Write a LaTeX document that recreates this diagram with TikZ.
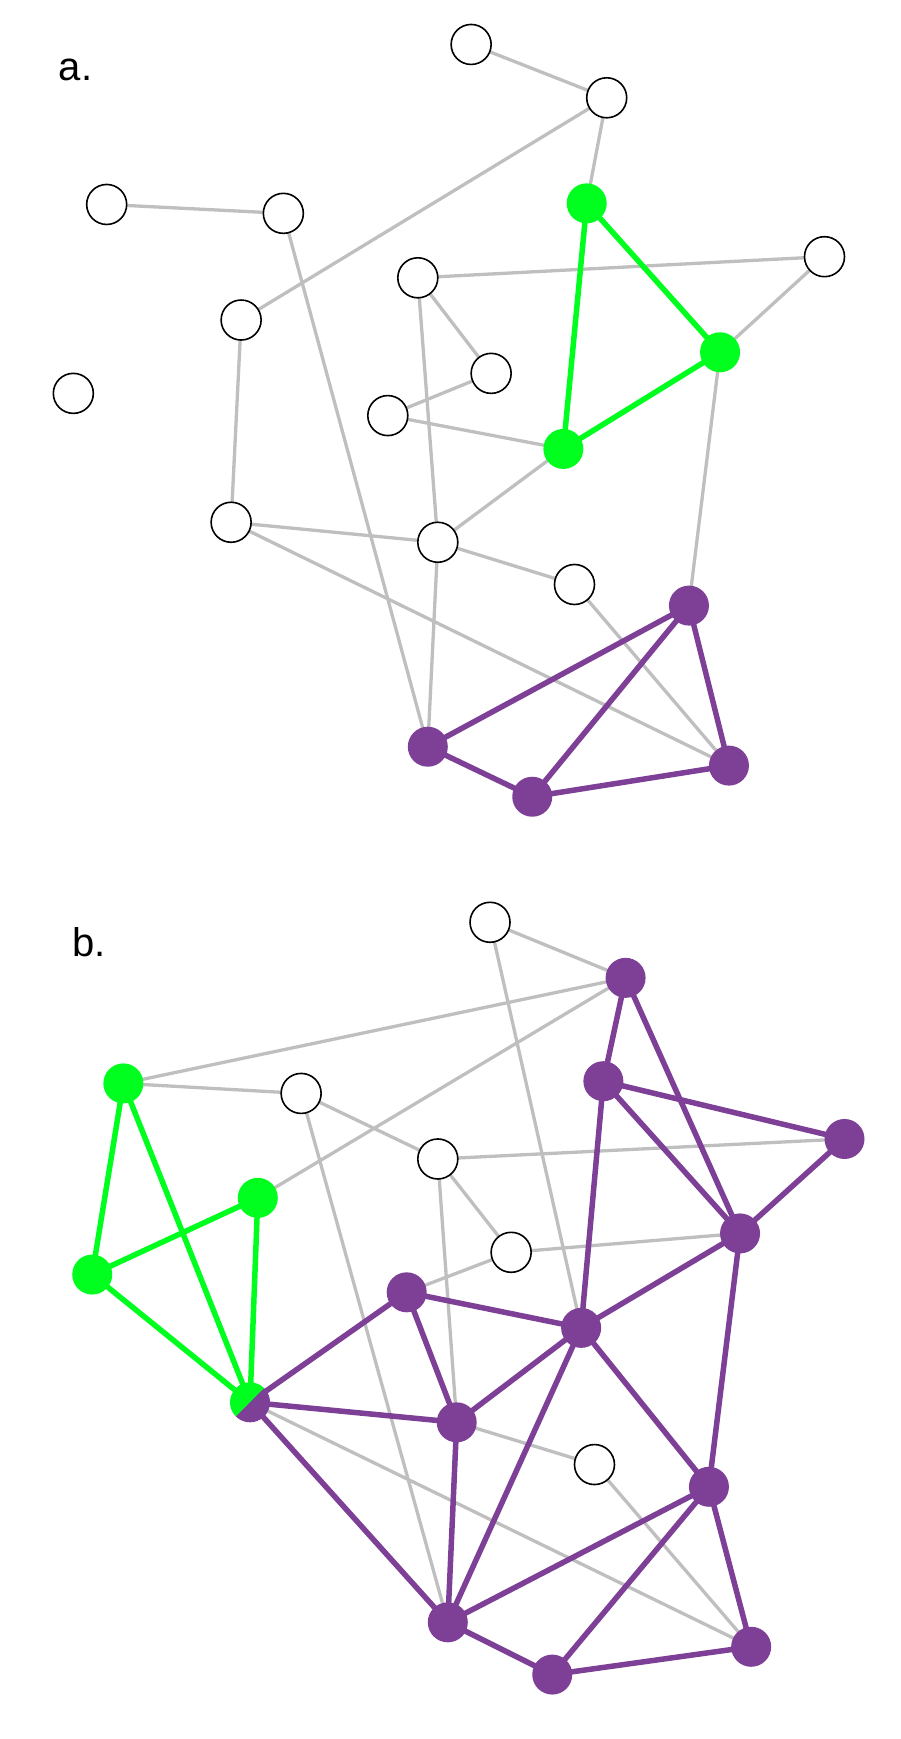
\documentclass[tikz,border=0pt]{standalone}
\usepackage{fontspec}
\setmainfont{Liberation Sans}
\begin{document}
\begin{tikzpicture}[x=1.111pt,y=-1.111pt,
  nd/.style={circle,minimum size=40pt,inner sep=0pt},
  wn/.style={nd,draw=black,line width=1.6pt,fill=white},
  gn/.style={nd,fill=gcol},
  pn/.style={nd,fill=pcol},
  ge/.style={draw=gray!50,line width=3.3pt},
  pe/.style={draw=pcol,line width=5.5pt},
  gre/.style={draw=gcol,line width=5.5pt},
  lab/.style={font=\fontsize{40}{46}\selectfont}]
\definecolor{gcol}{RGB}{0,255,30}
\definecolor{pcol}{RGB}{125,64,150}
\useasboundingbox (0,0) rectangle (810,1565);
\node[lab] (la) at (68,63) {a.};
\node[lab] (lb) at (80,848) {b.};
% panel a coordinates
\coordinate (A1) at (424,40); \coordinate (A2) at (546,88); \coordinate (A3) at (528,183);
\coordinate (A4) at (96,184); \coordinate (A5) at (255,192); \coordinate (A6) at (742,231);
\coordinate (A7) at (376,250); \coordinate (A8) at (217,288); \coordinate (A9) at (648,317);
\coordinate (A10) at (442,336); \coordinate (A11) at (66,354); \coordinate (A12) at (349,374);
\coordinate (A13) at (507,404); \coordinate (A14) at (208,470); \coordinate (A15) at (394,488);
\coordinate (A16) at (517,526); \coordinate (A17) at (620,545); \coordinate (A18) at (385,672);
\coordinate (A19) at (656,689); \coordinate (A20) at (479,717);
\foreach \a/\b in {A1/A2,A2/A3,A2/A8,A4/A5,A5/A18,A7/A6,A6/A9,A7/A10,A7/A15,A12/A10,A12/A13,A13/A15,A8/A14,A14/A15,A14/A19,A15/A18,A15/A16,A16/A19,A9/A17}
  \draw[ge] (\a) -- (\b);
\foreach \a/\b in {A3/A9,A3/A13,A9/A13} \draw[gre] (\a) -- (\b);
\foreach \a/\b in {A17/A18,A17/A20,A17/A19,A18/A20,A20/A19} \draw[pe] (\a) -- (\b);
\foreach \n in {A1,A2,A4,A5,A6,A7,A8,A10,A11,A12,A14,A15,A16} \node[wn] (n\n) at (\n) {};
\foreach \n in {A3,A9,A13} \node[gn] (n\n) at (\n) {};
\foreach \n in {A17,A18,A19,A20} \node[pn] (n\n) at (\n) {};
% panel b
\coordinate (B1) at (441,830); \coordinate (B2) at (563,880); \coordinate (B3) at (111,975);
\coordinate (B4) at (271,984); \coordinate (B5) at (543,973); \coordinate (B6) at (760,1025);
\coordinate (B7) at (394,1043); \coordinate (B8) at (232,1078); \coordinate (B9) at (666,1110);
\coordinate (B10) at (460,1127); \coordinate (B11) at (83,1147); \coordinate (B12) at (366,1163);
\coordinate (B13) at (523,1195); \coordinate (B14) at (225,1262); \coordinate (B15) at (411,1280);
\coordinate (B16) at (535,1318); \coordinate (B17) at (638,1338); \coordinate (B18) at (403,1460);
\coordinate (B19) at (676,1482); \coordinate (B20) at (497,1507);
\foreach \a/\b in {B1/B2,B1/B13,B3/B2,B3/B4,B4/B7,B4/B18,B2/B8,B7/B6,B7/B10,B7/B15,B10/B9,B10/B12,B14/B19,B15/B16,B16/B19}
  \draw[ge] (\a) -- (\b);
\foreach \a/\b in {B2/B5,B2/B9,B5/B6,B5/B9,B5/B13,B6/B9,B9/B13,B9/B17,B12/B13,B12/B15,B12/B14,B13/B15,B13/B18,B13/B17,B14/B15,B14/B18,B15/B18,B17/B18,B17/B20,B17/B19,B18/B20,B20/B19}
  \draw[pe] (\a) -- (\b);
\foreach \a/\b in {B3/B11,B3/B14,B8/B11,B8/B14,B11/B14} \draw[gre] (\a) -- (\b);
\foreach \n in {B1,B4,B7,B10,B16} \node[wn] (n\n) at (\n) {};
\foreach \n in {B3,B8,B11} \node[gn] (n\n) at (\n) {};
\foreach \n in {B2,B5,B6,B9,B12,B13,B15,B17,B18,B19,B20} \node[pn] (n\n) at (\n) {};
\node[nd] (nB14) at (B14) {};
\fill[gcol] (B14) ++(45:20pt) arc[start angle=45,end angle=225,radius=20pt] -- cycle;
\fill[pcol] (B14) ++(225:20pt) arc[start angle=225,end angle=405,radius=20pt] -- cycle;
\end{tikzpicture}
\end{document}
